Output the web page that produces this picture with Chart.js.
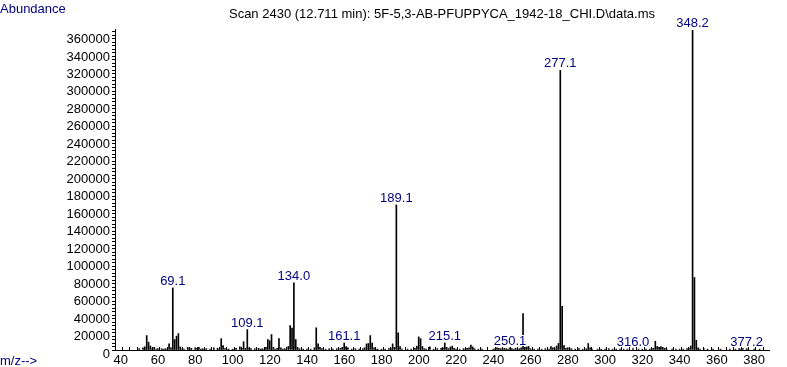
<!DOCTYPE html>
<html>
<head>
<meta charset="utf-8">
<script src="https://cdn.jsdelivr.net/npm/chart.js@4.4.1/dist/chart.umd.min.js"></script>
<style>
  html, body { margin: 0; padding: 0; background: #fff; }
  #wrap { width: 787px; height: 367px; }
</style>
</head>
<body>
<div id="wrap"><canvas id="msChart" width="787" height="367"></canvas></div>
<script>
// m/z of each peak and its abundance
const mzValues = [
    51, 53, 54, 55, 56, 57, 58, 59, 60, 61, 63, 64, 65, 66, 67, 68, 69, 70, 71, 72, 73, 74, 75, 77, 78, 79,
    81, 82, 83, 84, 85, 86, 87, 89, 91, 93, 94, 95, 96, 97, 98, 99, 101, 102, 103, 105, 106, 107, 108, 109,
    110, 111, 113, 115, 116, 117, 118, 119, 120, 121, 122, 123, 124, 125, 126, 127, 128, 129, 130, 131, 132,
    133, 134, 135, 136, 137, 139, 141, 143, 145, 146, 147, 148, 149, 151, 153, 155, 157, 159, 160, 161, 162,
    163, 165, 167, 169, 171, 172, 173, 174, 175, 176, 177, 178, 179, 181, 183, 185, 186, 187, 188, 189, 190,
    191, 192, 195, 197, 199, 200, 201, 202, 203, 204, 205, 207, 209, 211, 213, 214, 215, 216, 217, 218, 219,
    220, 221, 223, 225, 226, 227, 228, 229, 230, 231, 233, 235, 241, 242, 243, 244, 245, 246, 247, 248, 249,
    250, 251, 252, 253, 254, 255, 256, 257, 258, 259, 260, 261, 263, 265, 267, 269, 271, 272, 273, 274, 275,
    276, 277, 278, 279, 280, 281, 282, 283, 285, 287, 289, 291, 292, 293, 294, 297, 299, 301, 303, 305, 307,
    309, 311, 313, 316, 319, 321, 323, 325, 326, 327, 328, 329, 330, 331, 332, 333, 334, 337, 339, 341, 343,
    345, 346, 347, 348, 349, 350, 351, 352, 354, 356, 359, 363, 368, 371, 373, 374, 375, 377, 378, 381, 384
];
const abundanceValues = [
    1500, 2500, 3500, 16500, 9000, 4500, 1500, 3000, 1000, 1500, 1500, 1000, 1500, 1000, 7000, 2500, 71000, 12000, 15800, 18800, 3500, 1000, 1000, 3000, 1500, 2000,
    2500, 1500, 3000, 1000, 1500, 1000, 1500, 1000, 2500, 2000, 1000, 13000, 5000, 1500, 1000, 1000, 1000, 1000, 2000, 3500, 2000, 9500, 2000, 23400,
    2500, 1500, 1500, 2000, 1000, 1500, 1000, 3000, 12000, 10700, 17700, 3000, 1000, 2000, 13000, 2500, 1000, 1500, 1000, 4000, 28000,
    25000, 77000, 12000, 3000, 1500, 1000, 1000, 1000, 2500, 25400, 7000, 3000, 1500, 1000, 1500, 1000, 1500, 2000, 3000, 8000, 4000,
    2500, 1000, 1500, 1000, 1500, 2500, 7000, 7400, 16500, 8000, 2500, 1000, 1000, 1000, 1000, 1500, 2000, 7000, 3000, 166000, 19700,
    4000, 1000, 1000, 1000, 2000, 4500, 15000, 13000, 4000, 1500, 1000, 3500, 1000, 1500, 2000, 2500, 8000, 3000, 1500, 3500, 4500,
    2000, 1000, 1000, 1500, 1000, 2000, 2500, 5500, 3500, 1500, 1000, 1000, 1000, 1500, 2500, 2000, 1500, 1500, 2000, 1500, 1000,
    2500, 1500, 1000, 2000, 1000, 1500, 2500, 41700, 3000, 3500, 4000, 1500, 1000, 1000, 1000, 1500, 1000, 4000, 2500, 1500, 4500,
    7500, 320000, 50000, 5000, 2000, 2500, 1500, 1500, 1000, 1500, 1000, 1500, 7400, 2500, 1000, 1000, 1000, 1000, 1500, 1000, 1000,
    1000, 1000, 1000, 1500, 1000, 1000, 1000, 1000, 1500, 2000, 10000, 4000, 3000, 4000, 3000, 2000, 1000, 1000, 1000, 1000, 1000,
    1500, 2000, 4500, 366000, 83000, 11200, 2500, 1000, 1500, 1000, 1000, 1000, 1000, 1000, 1500, 1000, 1500, 1500, 1000, 1000, 1000
];

// labelled peaks: nominal m/z of the bar and the printed label
const peakLabelMz = [69, 109, 134, 161, 189, 215, 250, 277, 316, 348, 377];
const peakLabelText = ['69.1', '109.1', '134.0', '161.1', '189.1', '215.1', '250.1', '277.1', '316.0', '348.2', '377.2'];

// tick labels
const xTickLabels = [40, 60, 80, 100, 120, 140, 160, 180, 200, 220, 240, 260, 280, 300, 320, 340, 360, 380];
const yTickLabels = [0, 20000, 40000, 60000, 80000, 100000, 120000, 140000, 160000, 180000,
    200000, 220000, 240000, 260000, 280000, 300000, 320000, 340000, 360000];

const chartTitle = 'Scan 2430 (12.711 min): 5F-5,3-AB-PFUPPYCA_1942-18_CHI.D\\data.ms';
const yAxisName = 'Abundance';
const xAxisName = 'm/z-->';

const FONT = '"Liberation Sans", Arial, sans-serif';
const NAVY = '#000080';

// minor ticks: 5 per labelled step
const minorTicks = (labels, last) => {
    const step = (labels[1] - labels[0]) / 5;
    const out = [];
    for (let v = labels[0]; v <= last; v += step) out.push({ value: v });
    return out;
};

// textos fuera del area del grafico + etiquetas de picos (con fondo blanco)
const textPlugin = {
    id: 'msText',
    afterDatasetsDraw(chart) {
        const ctx = chart.ctx;
        const xs = chart.scales.x;
        const ys = chart.scales.y;
        ctx.save();
        ctx.font = '13px ' + FONT;
        ctx.textBaseline = 'alphabetic';
        ctx.textAlign = 'center';
        peakLabelMz.forEach((mz, i) => {
            const idx = mzValues.indexOf(mz);
            const val = idx >= 0 ? abundanceValues[idx] : 0;
            const px = xs.getPixelForValue(mz);
            const py = ys.getPixelForValue(val) - 3;
            const w = ctx.measureText(peakLabelText[i]).width;
            ctx.fillStyle = '#fff';
            ctx.fillRect(Math.round(px - w / 2), Math.round(py - 10), Math.ceil(w), 11);
            ctx.fillStyle = NAVY;
            ctx.fillText(peakLabelText[i], px, py);
        });

        ctx.fillStyle = NAVY;
        ctx.textAlign = 'left';
        ctx.fillText(yAxisName, 0, 13);
        ctx.fillText(xAxisName, 0, 365);

        ctx.fillStyle = '#000';
        ctx.textAlign = 'center';
        ctx.fillText(chartTitle, 442, 18);
        ctx.restore();
    }
};

const ctx = document.getElementById('msChart').getContext('2d');
new Chart(ctx, {
    type: 'bar',
    data: {
        datasets: [{
            data: mzValues.map((m, i) => ({ x: m, y: abundanceValues[i] })),
            backgroundColor: '#000',
            borderWidth: 0,
            barThickness: 1,
            grouped: false,
        }],
    },
    options: {
        responsive: false,
        animation: false,
        layout: { padding: { top: 29, right: 18, left: 0, bottom: 0 } },
        plugins: {
            legend: { display: false },
            tooltip: { enabled: false },
        },
        scales: {
            x: {
                type: 'linear',
                min: 40,
                max: 387,
                afterFit: (scale) => { scale.height = 17; },
                afterBuildTicks: (scale) => { scale.ticks = minorTicks(xTickLabels, 386); },
                border: { display: true, color: '#000', width: 1 },
                grid: { drawOnChartArea: false, tickLength: -3, tickColor: '#000' },
                ticks: {
                    autoSkip: false,
                    maxRotation: 0,
                    padding: 6,
                    labelOffset: 2,
                    color: '#000',
                    font: { family: FONT, size: 13 },
                    callback: (v) => xTickLabels.includes(Math.round(v)) ? String(Math.round(v)) : '',
                },
            },
            y: {
                min: 0,
                max: 367400,
                afterFit: (scale) => { scale.width = 115; },
                afterBuildTicks: (scale) => { scale.ticks = minorTicks(yTickLabels, 366000); },
                border: { display: true, color: '#000', width: 1 },
                grid: { drawOnChartArea: false, tickLength: 3, tickColor: '#000' },
                ticks: {
                    autoSkip: false,
                    padding: 2,
                    labelOffset: 4,
                    color: '#000',
                    font: { family: FONT, size: 13 },
                    callback: (v) => yTickLabels.includes(Math.round(v)) ? String(Math.round(v)) : '',
                },
            },
        },
    },
    plugins: [textPlugin],
});
</script>
</body>
</html>
